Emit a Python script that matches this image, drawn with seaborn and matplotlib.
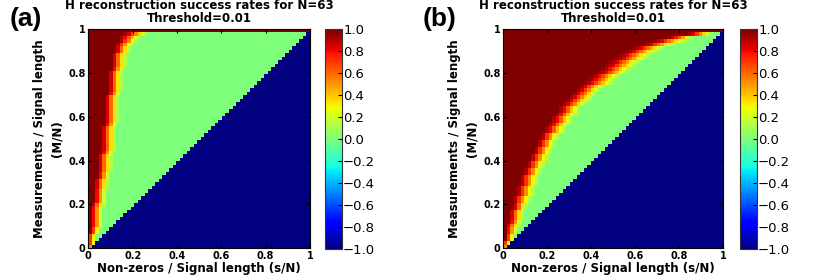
import numpy as np
import matplotlib
matplotlib.use("Agg")
import matplotlib.pyplot as plt
import seaborn as sns


# signal length and axis labels
N = 63
tick_labels = ["0", "0.2", "0.4", "0.6", "0.8", "1"]
cbar_ticks = [-1.0, -0.8, -0.6, -0.4, -0.2, 0.0, 0.2, 0.4, 0.6, 0.8, 1.0]

# one entry per row, M = 1..63 from bottom to top:
# number of cells with full success, then number of cells in the fall-off to 0
full_a = [0, 0, 0, 0, 1, 1, 1, 1, 1, 1, 1, 1, 1, 2, 2, 2, 2, 2, 2, 2,
          3, 3, 3, 3, 3, 3, 3, 4, 4, 4, 4, 4, 4, 4, 4, 5, 5, 5, 5, 5,
          5, 5, 5, 5, 6, 6, 6, 6, 6, 6, 6, 7, 7, 7, 7, 7, 8, 8, 8, 9,
          9, 10, 63]
fade_a = [1, 2, 2, 2, 2, 2, 3, 3, 3, 3, 3, 3, 4, 3, 3, 3, 3, 4, 4, 4,
          3, 3, 4, 4, 4, 4, 4, 3, 4, 4, 4, 4, 4, 4, 4, 3, 4, 4, 4, 4,
          4, 4, 4, 4, 3, 4, 4, 4, 4, 4, 4, 3, 4, 4, 4, 4, 4, 4, 5, 5,
          6, 7, 0]

full_b = [0, 0, 1, 1, 1, 1, 1, 2, 2, 2, 2, 3, 3, 3, 3, 4, 4, 4, 5, 5,
          5, 6, 6, 7, 7, 8, 8, 9, 9, 10, 10, 11, 11, 12, 12, 13, 14, 14, 15, 16,
          16, 17, 18, 19, 20, 21, 22, 23, 24, 25, 27, 28, 29, 30, 32, 33, 35, 37, 40, 43,
          47, 53, 63]
fade_b = [1, 2, 2, 2, 3, 3, 4, 3, 4, 4, 4, 4, 4, 5, 5, 5, 5, 5, 5, 5,
          5, 5, 5, 5, 5, 5, 5, 5, 5, 5, 5, 5, 5, 6, 6, 6, 6, 6, 6, 6,
          6, 7, 7, 7, 7, 7, 7, 9, 9, 9, 9, 9, 10, 10, 10, 10, 10, 10, 10, 10,
          8, 7, 0]

# success rates across a fall-off of a given number of cells
ramps = {
    0: [],
    1: [0.5],
    2: [0.7, 0.3],
    3: [0.8, 0.5, 0.2],
    4: [0.85, 0.6, 0.35, 0.12],
    5: [0.9, 0.72, 0.52, 0.3, 0.12],
    6: [0.92, 0.8, 0.62, 0.42, 0.25, 0.1],
    7: [0.94, 0.84, 0.7, 0.54, 0.37, 0.21, 0.08],
    8: [0.95, 0.88, 0.78, 0.64, 0.48, 0.32, 0.18, 0.07],
    9: [0.96, 0.9, 0.8, 0.68, 0.54, 0.4, 0.26, 0.14, 0.05],
    10: [0.96, 0.91, 0.83, 0.72, 0.6, 0.47, 0.34, 0.22, 0.12, 0.05],
}


def success_grid(full, fade):
    # -1 marks the s > M cells that were not tested
    grid = np.full((N, N), -1.0)
    for i in range(N):
        row = np.zeros(i + 1)
        row[:full[i]] = 1.0
        ramp = ramps[fade[i]]
        part = row[full[i]:full[i] + len(ramp)]
        row[full[i]:full[i] + len(part)] = ramp[:len(part)]
        grid[i, :i + 1] = row
    return grid


panels = [
    ("(a)", success_grid(full_a, fade_a), [0.1064, 0.1036, 0.267, 0.7917], [0.3916, 0.1, 0.0201, 0.795], 0.011),
    ("(b)", success_grid(full_b, fade_b), [0.6064, 0.1036, 0.265, 0.7917], [0.8916, 0.1, 0.0201, 0.795], 0.509),
]

fig = plt.figure(figsize=(8.3, 2.77), dpi=100)
for letter, grid, ax_rect, cb_rect, letter_x in panels:
    ax = fig.add_axes(ax_rect)
    cax = fig.add_axes(cb_rect)
    sns.heatmap(grid, ax=ax, cbar_ax=cax, cmap="jet", vmin=-1, vmax=1,
                xticklabels=False, yticklabels=False,
                cbar_kws={"ticks": cbar_ticks})
    ax.invert_yaxis()
    pos = np.linspace(0, N, len(tick_labels))
    ax.set_xticks(pos)
    ax.set_yticks(pos)
    ax.set_xticklabels(tick_labels, fontsize=7, fontweight="bold")
    ax.set_yticklabels(tick_labels, fontsize=7, fontweight="bold")
    ax.tick_params(direction="in", top=True, right=True, length=3, pad=2)
    for spine in ax.spines.values():
        spine.set_visible(True)
        spine.set_color("black")
        spine.set_linewidth(0.8)
    ax.set_xlabel("Non-zeros / Signal length (s/N)", fontsize=8.5, fontweight="bold", labelpad=1)
    ax.set_ylabel("Measurements / Signal length\n(M/N)", fontsize=8.5, fontweight="bold",
                  labelpad=3, linespacing=1.45)
    ax.set_title("H reconstruction success rates for N=63\nThreshold=0.01",
                 fontsize=8.5, fontweight="bold", pad=5, linespacing=1.0)
    cbar = ax.collections[0].colorbar
    cbar.set_ticklabels([f"{t:.1f}".replace("-", "\u2212") for t in cbar_ticks], fontsize=9.5)
    cax.tick_params(direction="in", length=3, pad=1, color="black")
    cbar.outline.set_visible(True)
    cbar.outline.set_edgecolor("#333333")
    cbar.outline.set_linewidth(0.8)
    fig.text(letter_x, 0.975, letter, fontsize=19, fontweight="bold", va="top", ha="left",
             family="Liberation Sans")

fig.savefig("out.png", dpi=100)
